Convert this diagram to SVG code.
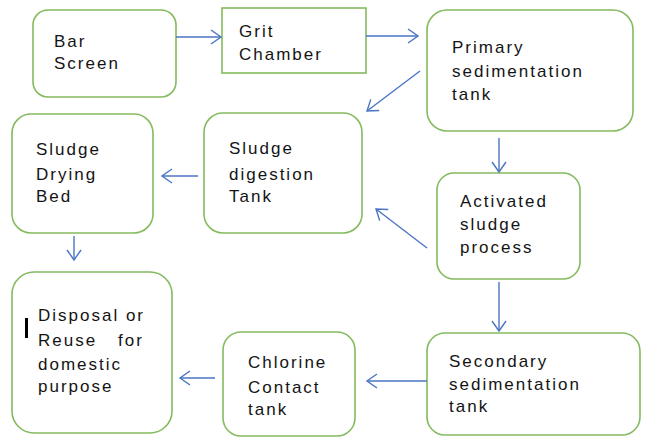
<svg xmlns="http://www.w3.org/2000/svg" width="646" height="439" viewBox="0 0 646 439">
<defs>
<style>
.box{fill:#fff;stroke:#84bb5e;stroke-width:1.6}
.lbl{font-family:"Liberation Sans",Arial,sans-serif;font-size:17px;letter-spacing:2px;fill:#141414}
.con line{stroke:#4a74c4;stroke-width:1.4;fill:none}
</style>
<marker id="ah" markerUnits="userSpaceOnUse" markerWidth="20" markerHeight="20" viewBox="-12 -10 14 20" refX="0" refY="0" orient="auto">
<path d="M-10,-7 L0,0 L-10,7" fill="none" stroke="#4a74c4" stroke-width="1.4"/>
</marker>
</defs>
<rect width="646" height="439" fill="#fff"/>
<g id="bar-screen"><rect class="box" x="33" y="10" width="143" height="87" rx="15"/><text class="lbl" x="54" y="47">Bar</text><text class="lbl" x="54" y="69">Screen</text></g>
<g id="grit-chamber"><rect class="box" x="222" y="8" width="144" height="65"/><text class="lbl" x="239" y="37">Grit</text><text class="lbl" x="239" y="60">Chamber</text></g>
<g id="primary"><rect class="box" x="427" y="10" width="206" height="121" rx="20"/><text class="lbl" x="452" y="53">Primary</text><text class="lbl" x="452" y="77">sedimentation</text><text class="lbl" x="452" y="100">tank</text></g>
<g id="drying-bed"><rect class="box" x="12" y="114" width="141" height="119" rx="19"/><text class="lbl" x="36" y="155">Sludge</text><text class="lbl" x="36" y="180">Drying</text><text class="lbl" x="36" y="202">Bed</text></g>
<g id="digestion"><rect class="box" x="204" y="113" width="158" height="120" rx="19"/><text class="lbl" x="229" y="154">Sludge</text><text class="lbl" x="229" y="180">digestion</text><text class="lbl" x="229" y="202">Tank</text></g>
<g id="activated"><rect class="box" x="437" y="173" width="143" height="106" rx="17"/><text class="lbl" x="460" y="207">Activated</text><text class="lbl" x="460" y="230">sludge</text><text class="lbl" x="460" y="253">process</text></g>
<g id="disposal"><rect class="box" x="12" y="272" width="160" height="161" rx="22"/><rect x="25" y="318" width="3" height="20" fill="#000"/><text class="lbl" x="38" y="321">Disposal or</text><text class="lbl" y="346"><tspan x="38">Reuse</tspan><tspan x="118">for</tspan></text><text class="lbl" x="38" y="370">domestic</text><text class="lbl" x="38" y="392">purpose</text></g>
<g id="chlorine"><rect class="box" x="223" y="332" width="132" height="104" rx="18"/><text class="lbl" x="248" y="368">Chlorine</text><text class="lbl" x="248" y="393">Contact</text><text class="lbl" x="248" y="415">tank</text></g>
<g id="secondary"><rect class="box" x="427" y="333" width="213" height="102" rx="18"/><text class="lbl" x="449" y="367">Secondary</text><text class="lbl" x="449" y="390">sedimentation</text><text class="lbl" x="449" y="412">tank</text></g>
<g id="connectors" class="con">
<line x1="176" y1="37" x2="221" y2="37" marker-end="url(#ah)"/>
<line x1="366" y1="36" x2="418" y2="36" marker-end="url(#ah)"/>
<line x1="420" y1="71" x2="367" y2="111" marker-end="url(#ah)"/>
<line x1="499" y1="138" x2="499" y2="172" marker-end="url(#ah)"/>
<line x1="427" y1="248" x2="376" y2="209" marker-end="url(#ah)"/>
<line x1="499" y1="282" x2="499" y2="331" marker-end="url(#ah)"/>
<line x1="427" y1="381" x2="367" y2="381" marker-end="url(#ah)"/>
<line x1="215" y1="378" x2="180" y2="378" marker-end="url(#ah)"/>
<line x1="198" y1="176" x2="162" y2="176" marker-end="url(#ah)"/>
<line x1="74" y1="236" x2="74" y2="260" marker-end="url(#ah)"/>
</g>
</svg>
